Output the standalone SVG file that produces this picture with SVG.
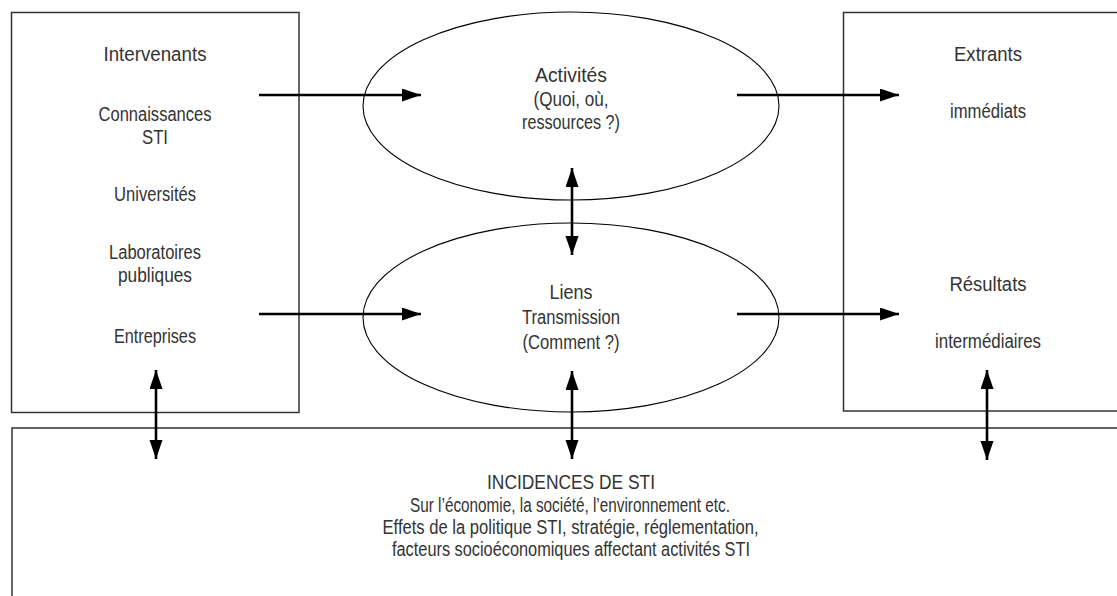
<svg xmlns="http://www.w3.org/2000/svg" width="1117" height="596" viewBox="0 0 1117 596">
<style>
.box{fill:none;stroke:#333;stroke-width:1.5}
.ell{fill:none;stroke:#000;stroke-width:1.1}
.arr{stroke:#000;stroke-width:2.6;fill:none;marker-end:url(#ah)}
.dbl{stroke:#000;stroke-width:2.6;fill:none;marker-end:url(#ah);marker-start:url(#ah)}
text{font-family:"Liberation Sans",Arial,sans-serif;font-size:20px;fill:#333;text-anchor:middle}
</style>
<defs>
<marker id="ah" markerUnits="userSpaceOnUse" markerWidth="20" markerHeight="14" refX="19" refY="6.5" orient="auto-start-reverse">
<path d="M0,0 L19,6.5 L0,13 z" fill="#000"/>
</marker>
</defs>
<rect width="1117" height="596" fill="#fff"/>
<g id="intervenants">
<rect class="box" x="11.5" y="12.5" width="287.5" height="400"/>
<text x="155" y="60.5" textLength="103" lengthAdjust="spacingAndGlyphs">Intervenants</text>
<text x="155" y="121" textLength="113" lengthAdjust="spacingAndGlyphs">Connaissances</text>
<text x="155" y="143.5" textLength="26" lengthAdjust="spacingAndGlyphs">STI</text>
<text x="155" y="201" textLength="82" lengthAdjust="spacingAndGlyphs">Universités</text>
<text x="155" y="259" textLength="92" lengthAdjust="spacingAndGlyphs">Laboratoires</text>
<text x="155" y="281.5" textLength="74" lengthAdjust="spacingAndGlyphs">publiques</text>
<text x="155" y="342.5" textLength="82" lengthAdjust="spacingAndGlyphs">Entreprises</text>
</g>
<g id="activites">
<ellipse class="ell" cx="571" cy="106" rx="208" ry="94"/>
<text x="571" y="82" textLength="72" lengthAdjust="spacingAndGlyphs">Activités</text>
<text x="571" y="105.5" textLength="75" lengthAdjust="spacingAndGlyphs">(Quoi, où,</text>
<text x="571" y="129" textLength="98" lengthAdjust="spacingAndGlyphs">ressources ?)</text>
</g>
<g id="liens">
<ellipse class="ell" cx="571" cy="317.5" rx="208" ry="94.5"/>
<text x="571" y="299" textLength="43" lengthAdjust="spacingAndGlyphs">Liens</text>
<text x="571" y="324" textLength="98" lengthAdjust="spacingAndGlyphs">Transmission</text>
<text x="571" y="349" textLength="97" lengthAdjust="spacingAndGlyphs">(Comment ?)</text>
</g>
<g id="extrants">
<rect class="box" x="843.5" y="12.5" width="290" height="398.5"/>
<text x="988" y="60.5" textLength="68" lengthAdjust="spacingAndGlyphs">Extrants</text>
<text x="988" y="118" textLength="76" lengthAdjust="spacingAndGlyphs">immédiats</text>
<text x="988" y="291" textLength="77" lengthAdjust="spacingAndGlyphs">Résultats</text>
<text x="988" y="348" textLength="106" lengthAdjust="spacingAndGlyphs">intermédiaires</text>
</g>
<g id="incidences">
<rect class="box" x="12" y="428" width="1120" height="200"/>
<text x="571" y="489" textLength="168" lengthAdjust="spacingAndGlyphs">INCIDENCES DE STI</text>
<text x="570" y="511.5" textLength="320" lengthAdjust="spacingAndGlyphs">Sur l’économie, la société, l’environnement etc.</text>
<text x="570.5" y="534" textLength="376" lengthAdjust="spacingAndGlyphs">Effets de la politique STI, stratégie, réglementation,</text>
<text x="571" y="556" textLength="358" lengthAdjust="spacingAndGlyphs">facteurs socioéconomiques affectant activités STI</text>
</g>
<g id="connectors">
<line class="arr" x1="259" y1="95" x2="421" y2="95"/>
<line class="arr" x1="259" y1="314" x2="421" y2="314"/>
<line class="arr" x1="737" y1="95" x2="899" y2="95"/>
<line class="arr" x1="737" y1="314" x2="899" y2="314"/>
<line class="dbl" x1="572" y1="168" x2="572" y2="255"/>
<line class="dbl" x1="572" y1="371" x2="572" y2="459"/>
<line class="dbl" x1="156" y1="370" x2="156" y2="459"/>
<line class="dbl" x1="987" y1="370" x2="987" y2="460"/>
</g>
</svg>
